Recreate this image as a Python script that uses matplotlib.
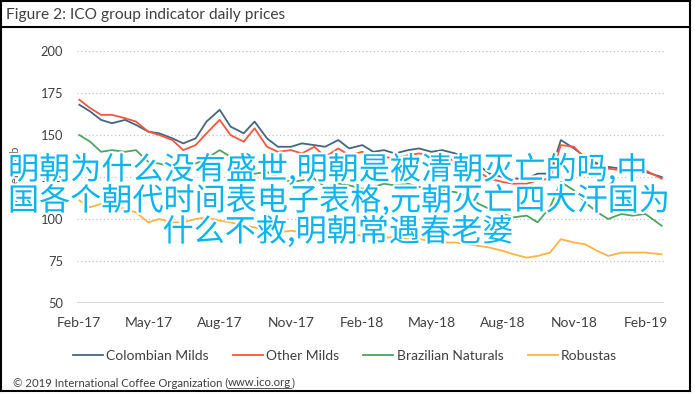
import matplotlib.pyplot as plt
import matplotlib.patheffects as pe
from matplotlib.lines import Line2D
import pandas as pd

W, H = 695, 394

# semi-monthly readings, Feb 2017 - Feb 2019 (US cents/lb)
dates = list(pd.date_range('2017-02-01', '2019-02-01', freq='SMS')) + [pd.Timestamp('2019-02-22')]

colombian = [168, 164, 159, 157, 159, 156, 152, 151, 148, 145,
             148, 158, 165, 155, 151, 158, 148, 143, 143, 145,
             144, 143, 147, 142, 144, 140, 141, 139, 141, 142,
             140, 141, 139, 136, 132, 127, 125, 124, 124, 127,
             127, 147, 142, 137, 133, 131, 130, 129, 128, 125]
other = [171, 166, 162, 162, 160, 158, 152, 150, 147, 141,
         144, 151, 159, 150, 146, 154, 143, 140, 141, 139,
         143, 137, 142, 138, 140, 136, 137, 136, 138, 139,
         138, 136, 135, 132, 128, 124, 122, 121, 121, 123,
         124, 144, 143, 136, 132, 130, 129, 129, 129, 124]
brazilian = [150, 146, 140, 141, 140, 141, 134, 133, 131, 129,
             133, 136, 141, 137, 125, 127, 128, 125, 122, 123,
             124, 119, 121, 120, 118, 119, 121, 120, 121, 119,
             118, 117, 116, 114, 109, 106, 103, 101, 102, 98,
             107, 122, 117, 110, 104, 100, 103, 102, 103, 96]
robustas = [111, 107, 109, 108, 106, 104, 98, 100, 98, 98,
            100, 101, 99, 98, 96, 95, 93, 92, 93, 92,
            91, 91, 90, 91, 90, 90, 89, 89, 88, 88,
            87, 86, 86, 85, 84, 83, 81, 79, 77, 78,
            80, 88, 86, 85, 81, 78, 80, 80, 80, 79]

series = ['Colombian Milds', 'Other Milds', 'Brazilian Naturals', 'Robustas']
colors = ['#44677f', '#f4563f', '#4ea562', '#fdb443']

tick_dates = ['2017-02-01', '2017-05-01', '2017-08-01', '2017-11-01', '2018-02-01',
              '2018-05-01', '2018-08-01', '2018-11-01', '2019-02-01']
tick_labels = ['Feb-17', 'May-17', 'Aug-17', 'Nov-17', 'Feb-18',
               'May-18', 'Aug-18', 'Nov-18', 'Feb-19']
y_ticks = [50, 75, 100, 125, 150, 175, 200]

overlay = ['明朝为什么没有盛世,明朝是被清朝灭亡的吗,中',
           '国各个朝代时间表电子表格,元朝灭亡四大汗国为',
           '什么不救,明朝常遇春老婆']

plt.rcParams['font.family'] = ['Lato', 'DejaVu Sans']
txt = '#404040'

fig = plt.figure(figsize=(W / 100, H / 100), dpi=100)
ax = fig.add_axes([77 / W, 1 - 303 / H, (664 - 77) / W, (303 - 51) / H])

for name, vals, c in zip(series, [colombian, other, brazilian, robustas], colors):
    ax.plot(dates, vals, color=c, lw=1.3, label=name)

ax.set_ylim(50, 200)
ax.set_xlim(pd.Timestamp('2017-01-29'), pd.Timestamp('2019-02-25'))
ax.set_yticks(y_ticks)
ax.set_xticks(pd.to_datetime(tick_dates))
ax.set_xticklabels(tick_labels)
ax.tick_params(axis='both', length=0, colors=txt)
ax.tick_params(axis='y', pad=10, labelsize=9.3)
ax.tick_params(axis='x', pad=10, labelsize=10)
for s in ax.spines.values():
    s.set_visible(False)
for y in y_ticks[1:]:
    ax.axhline(y, color='#c4c4c4', lw=0.9, ls=(0, (1, 2)), zorder=0)
ax.axhline(50, color='#d9d9d9', lw=1.6, zorder=0)

ax.set_ylabel('US cents/lb', fontsize=8.5, color='#595959', labelpad=14)

fig.legend(loc='center', bbox_to_anchor=(345 / W, 1 - 356 / H), ncol=4, frameon=False,
           fontsize=10, handlelength=2.16, handletextpad=0.25, columnspacing=1.73,
           labelcolor=txt)

fig.text(6 / W, 1 - 15 / H, 'Figure 2: ICO group indicator daily prices', fontsize=11.2,
         color=txt, ha='left', va='center')

# copyright line with underlined link
fs = 8.2
t1 = fig.text(13 / W, 1 - 383 / H, '© 2019 International Coffee Organization (', fontsize=fs,
              color=txt, ha='left', va='center')
r = fig.canvas.get_renderer()
bb1 = t1.get_window_extent(r)
t2 = fig.text(bb1.x1 / W, 1 - 383 / H, 'www.ico.org', fontsize=fs, color=txt, ha='left', va='center')
bb2 = t2.get_window_extent(r)
fig.text(bb2.x1 / W, 1 - 383 / H, ')', fontsize=fs, color=txt, ha='left', va='center')
uy = (bb2.y0 + 1) / H
fig.add_artist(Line2D([bb2.x0 / W, bb2.x1 / W], [uy, uy], color=txt, lw=0.6))

# frame
def fx(px):
    return px / W

def fy(py):
    return 1 - py / H

for xs, ys in [([1, 690], [1, 1]), ([1, 690], [27, 27]), ([1, 690], [391, 391]),
               ([1, 1], [1, 391]), ([690, 690], [1, 391])]:
    fig.add_artist(Line2D([fx(v) for v in xs], [fy(v) for v in ys], color='black', lw=1.5))

# overlaid caption
cjk = dict(fontsize=22.4, color='#0ab4ef', family=['Noto Sans CJK SC', 'DejaVu Sans'],
           va='center', zorder=10,
           path_effects=[pe.withStroke(linewidth=3, foreground='white')])
fig.text(8 / W, 1 - 170 / H, overlay[0], ha='left', **cjk)
fig.text(8 / W, 1 - 201 / H, overlay[1], ha='left', **cjk)
fig.text(338 / W, 1 - 232 / H, overlay[2], ha='center', **cjk)

fig.savefig('out.png', dpi=100)
